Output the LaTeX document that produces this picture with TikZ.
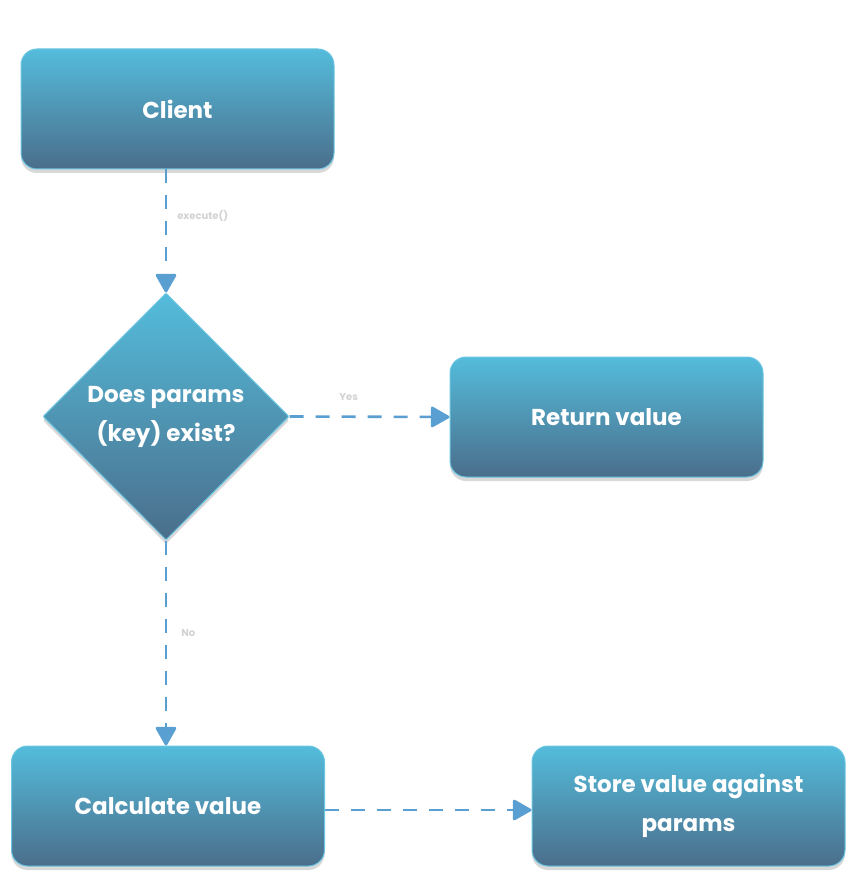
\documentclass[tikz,border=0pt]{standalone}
\usepackage{fontspec}
\setmainfont{Poppins}
\usetikzlibrary{shapes.geometric,arrows.meta,shadows}
\definecolor{topc}{HTML}{54BCDB}
\definecolor{botc}{HTML}{4A6E8B}
\definecolor{edgec}{HTML}{6CC6E2}
\definecolor{arrc}{HTML}{5A9FD2}
\definecolor{lblc}{HTML}{D2D2D2}
\tikzset{
  boxbase/.style={draw=edgec, line width=1pt, top color=topc, bottom color=botc,
    text=white, font=\bfseries\fontsize{23}{39}\selectfont, align=center,
    drop shadow={opacity=0.22, shadow xshift=0pt, shadow yshift=-4pt, fill=black!70}},
  procbox/.style={boxbase, rectangle, rounded corners=16pt, minimum width=313pt, minimum height=120pt, inner sep=0pt},
  decbox/.style={boxbase, diamond, minimum width=246pt, minimum height=247pt, inner sep=0pt, rounded corners=1pt},
  flow/.style={draw=arrc, line width=2.6pt, dash pattern=on 14pt off 12pt,
    -{Triangle[width=22pt,length=20pt,round]}},
  lbl/.style={text=lblc, font=\bfseries\fontsize{10}{12}\selectfont, inner sep=2pt}
}
\begin{document}
\begin{tikzpicture}[x=1pt,y=-1pt]
\useasboundingbox (0,0) rectangle (857,882);
\node[procbox] (client) at (177.5,109) {Client};
\node[decbox] (dia) at (166,416.5) {Does params\\(key) exist?};
\node[procbox] (ret) at (606.5,417) {Return value};
\node[procbox] (calc) at (168,806) {Calculate value};
\node[procbox] (store) at (688.5,806) {Store value against\\params};
\draw[flow] (dia.north |- client.south) -- node[lbl, pos=0.38, anchor=west, xshift=8pt] {execute()} (dia.north);
\draw[flow] (dia.east) -- node[lbl, pos=0.37, anchor=south, yshift=13pt] {Yes} (ret.west);
\draw[flow] (dia.south) -- node[lbl, pos=0.45, anchor=west, xshift=12pt] {No} (calc.north -| dia.south);
\draw[flow] ([yshift=-4pt]calc.east) -- ([yshift=-4pt]store.west);
\end{tikzpicture}
\end{document}
